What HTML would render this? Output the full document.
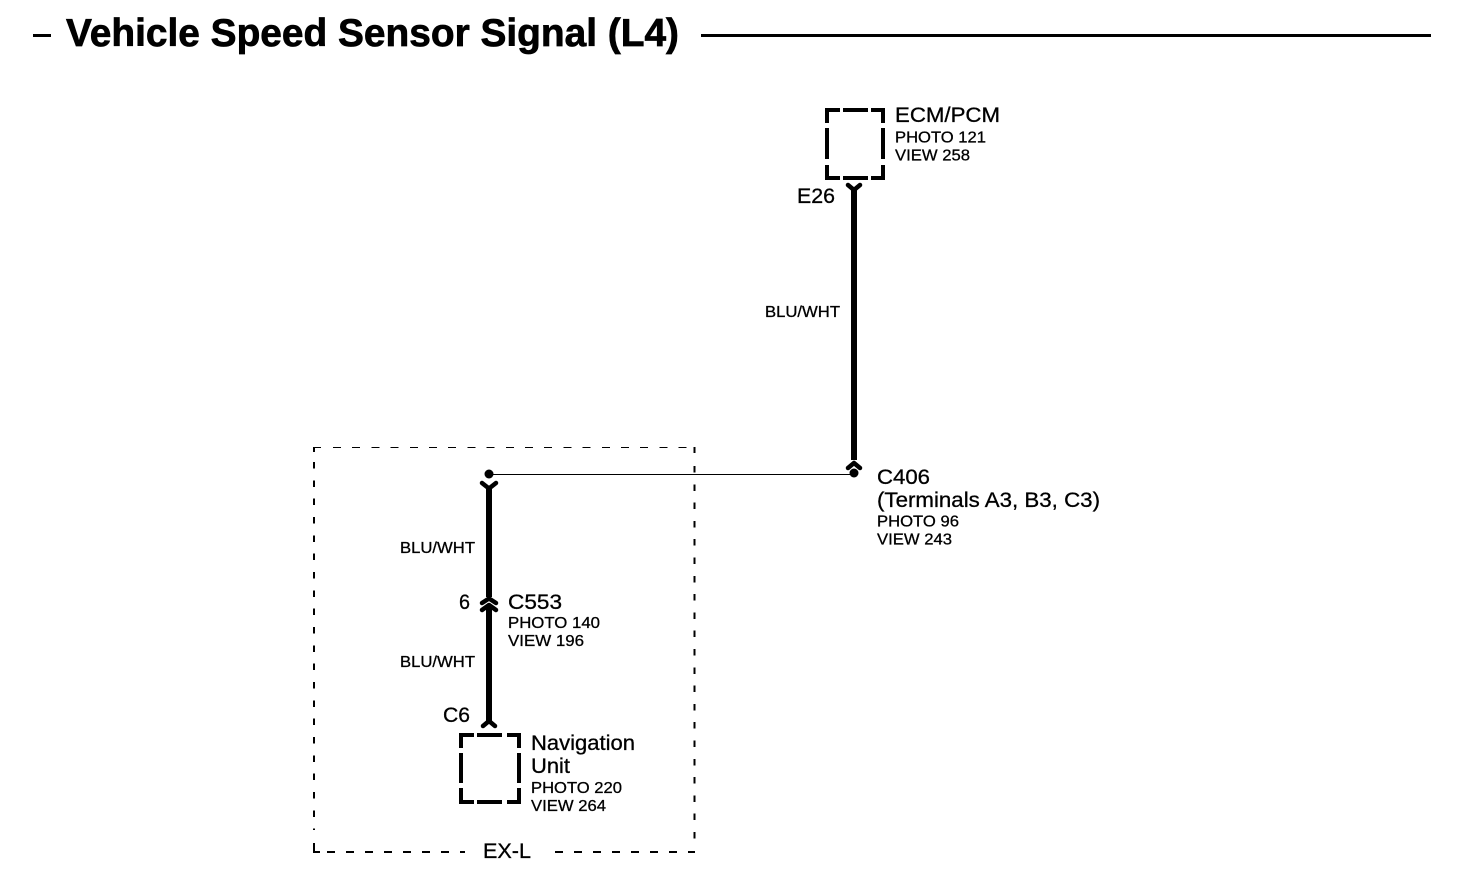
<!DOCTYPE html>
<html><head><meta charset="utf-8"><style>
html,body{margin:0;padding:0;background:#fff}
svg{display:block}
text{font-family:"Liberation Sans",sans-serif;fill:#000;stroke:#000;stroke-width:.3}
.b{font-size:21px}.s{font-size:16px}.w{font-size:15.5px}
</style></head><body>
<svg width="1472" height="884" viewBox="0 0 1472 884" xmlns="http://www.w3.org/2000/svg">
<rect width="1472" height="884" fill="#fff"/>
<g shape-rendering="crispEdges" fill="#000">
<rect x="33" y="34" width="18" height="3"/>
<rect x="701" y="34" width="730" height="3"/>
<!-- ECM box -->
<path d="M825 108h15v4h-11v11h-4zM843 108h25v4h-25zM871 108h14v15h-4v-11h-10zM825 128h4v31h-4zM881 128h4v31h-4zM825 165h4v11h11v4h-15zM843 176h25v4h-25zM881 165h4v15h-14v-4h10z"/>
<!-- Nav box -->
<path d="M459 733h15v4h-11v11h-4zM477 733h25v4h-25zM507 733h14v15h-4v-11h-10zM459 753h4v30h-4zM517 753h4v30h-4zM459 788h4v12h11v4h-15zM477 800h25v4h-25zM517 788h4v16h-14v-4h10z"/>
<!-- wires -->
<rect x="851" y="188" width="6" height="272"/>
<rect x="486" y="487" width="6" height="110"/>
<rect x="486" y="607" width="6" height="115"/>
<rect x="489" y="474" width="365" height="1"/>
</g>
<!-- dashed box -->
<g fill="none" stroke="#000" shape-rendering="crispEdges">
<path d="M313 447.5H321M333 447.5H695" stroke-width="1" stroke-dasharray="8 11.2"/>
<path d="M694.5 447V453M694.5 466V846" stroke-width="2" stroke-dasharray="6.5 11.8"/>
<path d="M314 447V452" stroke-width="2"/>
<path d="M314 462V830" stroke-width="2" stroke-dasharray="6.5 11.83"/>
<path d="M314 843V852" stroke-width="2"/>
<path d="M313 852H320M327 852H465" stroke-width="2" stroke-dasharray="8 11"/>
<path d="M555 852H695" stroke-width="2" stroke-dasharray="8 11"/>
</g>
<!-- forks -->
<g fill="none" stroke="#000" stroke-width="4.500" stroke-linecap="round" stroke-linejoin="round">
<path d="M848 185L854 190L860 185"/>
<path d="M482 483L489 488.500L496 483"/>
<path d="M848 468L854 463L860 468"/>
<path d="M482 603L489 598.500L496 603"/>
<path d="M482 610L489 605L496 610"/>
<path d="M483 726L489 721L495 726"/>
</g>
<circle cx="489" cy="474" r="4.500"/>
<circle cx="854" cy="473" r="4.500"/>
<!-- text -->
<text x="66" y="46" font-size="38.500" font-weight="700" textLength="613" lengthAdjust="spacingAndGlyphs" style="stroke-width:.7">Vehicle Speed Sensor Signal (L4)</text>
<text class="b" x="895" y="122" textLength="105" lengthAdjust="spacingAndGlyphs">ECM/PCM</text>
<text class="s" x="895" y="142.500" textLength="91" lengthAdjust="spacingAndGlyphs">PHOTO 121</text>
<text class="s" x="895" y="160.500" textLength="75" lengthAdjust="spacingAndGlyphs">VIEW 258</text>
<text class="b" x="797" y="203" textLength="38" lengthAdjust="spacingAndGlyphs">E26</text>
<text class="w" x="765" y="317" textLength="75" lengthAdjust="spacingAndGlyphs">BLU/WHT</text>
<text class="w" x="400" y="553" textLength="75" lengthAdjust="spacingAndGlyphs">BLU/WHT</text>
<text class="w" x="400" y="667" textLength="75" lengthAdjust="spacingAndGlyphs">BLU/WHT</text>
<text class="b" x="877" y="484" textLength="53" lengthAdjust="spacingAndGlyphs">C406</text>
<text class="b" x="877" y="507" textLength="223" lengthAdjust="spacingAndGlyphs">(Terminals A3, B3, C3)</text>
<text class="s" x="877" y="526.500" textLength="82" lengthAdjust="spacingAndGlyphs">PHOTO 96</text>
<text class="s" x="877" y="544.500" textLength="75" lengthAdjust="spacingAndGlyphs">VIEW 243</text>
<text class="b" x="459" y="609" textLength="11" lengthAdjust="spacingAndGlyphs">6</text>
<text class="b" x="508" y="609" textLength="54" lengthAdjust="spacingAndGlyphs">C553</text>
<text class="s" x="508" y="628" textLength="92" lengthAdjust="spacingAndGlyphs">PHOTO 140</text>
<text class="s" x="508" y="646" textLength="76" lengthAdjust="spacingAndGlyphs">VIEW 196</text>
<text class="b" x="443" y="722" textLength="27" lengthAdjust="spacingAndGlyphs">C6</text>
<text class="b" x="531" y="750" textLength="104" lengthAdjust="spacingAndGlyphs">Navigation</text>
<text class="b" x="531" y="773" textLength="39" lengthAdjust="spacingAndGlyphs">Unit</text>
<text class="s" x="531" y="793" textLength="91" lengthAdjust="spacingAndGlyphs">PHOTO 220</text>
<text class="s" x="531" y="811" textLength="75" lengthAdjust="spacingAndGlyphs">VIEW 264</text>
<text class="b" x="483" y="858" textLength="48" lengthAdjust="spacingAndGlyphs">EX-L</text>
</svg>
</body></html>
